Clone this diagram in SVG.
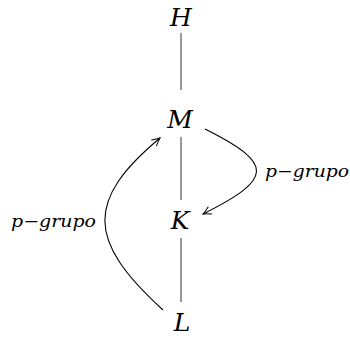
<svg xmlns="http://www.w3.org/2000/svg" width="350" height="338" viewBox="0 0 350 338">
<style>
.n{font-family:'DejaVu Serif',serif;font-style:italic;font-size:25px;fill:#000;text-anchor:middle}
.lb{font-family:'DejaVu Serif',serif;font-style:italic;font-size:17px;fill:#000}
.e{stroke:#555;stroke-width:1.2;fill:none}
.a{stroke:#000;stroke-width:1.1;fill:none}
</style>
<defs>
<marker id="ah" viewBox="-10 -6 12 12" markerWidth="12" markerHeight="12" refX="0" refY="0" orient="auto" markerUnits="userSpaceOnUse">
<path d="M-8,-4 Q-3,-1 0,0 Q-3,1 -8,4" stroke="#000" stroke-width="1" fill="none"/>
</marker>
</defs>
<rect width="350" height="338" fill="#fff"/>
<g id="connectors">
<line class="e" x1="181" y1="33" x2="181" y2="90"/>
<line class="e" x1="181" y1="137" x2="181" y2="200"/>
<line class="e" x1="181" y1="238" x2="181" y2="302"/>
<path class="a" d="M205,129 C275,164 273,179 203,214" marker-end="url(#ah)"/>
<path class="a" d="M163,310 C86,240 86,200 160,138" marker-end="url(#ah)"/>
<text class="lb" x="265" y="177" textLength="84" lengthAdjust="spacingAndGlyphs">p−grupo</text>
<text class="lb" x="11" y="227" textLength="85" lengthAdjust="spacingAndGlyphs">p−grupo</text>
</g>
<g id="H"><text class="n" x="181" y="26">H</text></g>
<g id="M"><text class="n" x="180" y="128">M</text></g>
<g id="K"><text class="n" x="180" y="229">K</text></g>
<g id="L"><text class="n" x="182" y="331">L</text></g>
</svg>
